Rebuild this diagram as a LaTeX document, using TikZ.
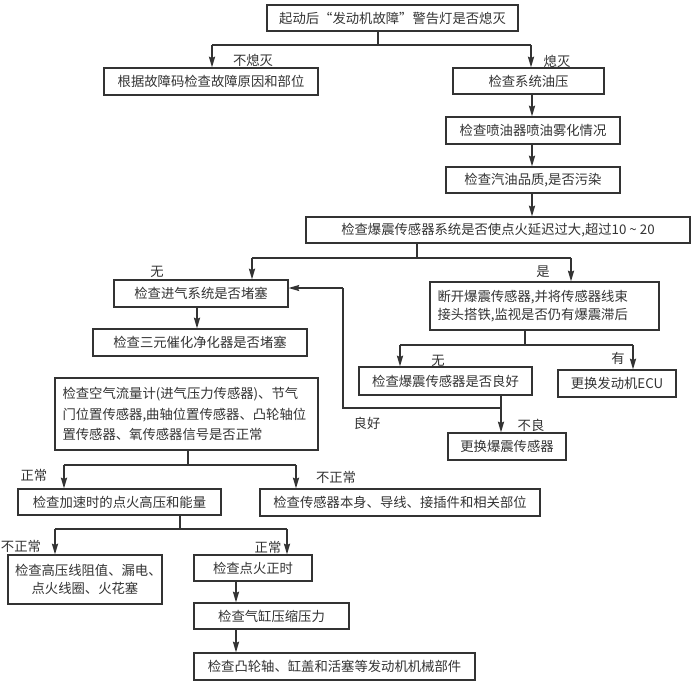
\documentclass[tikz,border=0pt]{standalone}
\usepackage{fontspec}
\setmainfont{Noto Sans CJK SC}
\usetikzlibrary{arrows.meta}
\definecolor{ink}{HTML}{333333}
\newcommand\bx[6]{\node[box, minimum width={(#4-#2)*0.75pt}, minimum height={(#5-#3)*0.75pt}] (#1) at ({(#2+#4)/2},{(#3+#5)/2}) {#6};}
\begin{document}
\begin{tikzpicture}[x=0.75pt,y=-0.75pt,
  box/.style={draw=ink, line width=0.8pt, inner sep=2pt, text=ink, font=\fontsize{10}{14}\selectfont},
  arr/.style={draw=ink, line width=1.5pt, -{Stealth[length=8pt,width=4.5pt,inset=1pt]}},
  ln/.style={draw=ink, line width=0.8pt},
  lbl/.style={text=ink, font=\fontsize{10}{12}\selectfont, inner sep=0pt}]
\useasboundingbox[fill=white] (0,0) rectangle (692,690);

% boxes
\bx{top}{267}{5}{518}{31}{起动后“发动机故障”警告灯是否熄灭}
\bx{n1}{104}{68}{318}{95}{根据故障码检查故障原因和部位}
\bx{n2}{453}{68}{604}{94}{检查系统油压}
\bx{n3}{446}{117}{620}{144}{检查喷油器喷油雾化情况}
\bx{n4}{446}{167}{620}{193}{检查汽油品质,是否污染}
\bx{n5}{306}{217}{690}{243}{检查爆震传感器系统是否使点火延迟过大,超过10 \textasciitilde\ 20}
\bx{n6}{114}{280}{288}{307}{检查进气系统是否堵塞}
\bx{n7}{93}{329}{307}{356}{检查三元催化净化器是否堵塞}
\bx{n8}{430}{282}{659}{330}{\parbox{214\dimexpr 0.75pt\relax}{\fontsize{10}{13.5}\selectfont 断开爆震传感器,并将传感器线束\\接头搭铁,监视是否仍有爆震滞后}}
\bx{n9}{359}{367}{532}{395}{检查爆震传感器是否良好}
\bx{n10}{558}{370}{676}{397}{更换发动机ECU}
\bx{n11}{55}{378}{318}{450}{\parbox{248\dimexpr 0.75pt\relax}{\fontsize{10}{15.5}\selectfont 检查空气流量计(进气压力传感器)、节气\\门位置传感器,曲轴位置传感器、凸轮轴位\\置传感器、氧传感器信号是否正常}}
\bx{n12}{448}{433}{566}{460}{更换爆震传感器}
\bx{n13}{18}{489}{221}{515}{检查加速时的点火高压和能量}
\bx{n14}{260}{489}{540}{516}{检查传感器本身、导线、接插件和相关部位}
\bx{n15}{8}{555}{162}{604}{\parbox{140\dimexpr 0.75pt\relax}{\centering\fontsize{10}{14}\selectfont 检查高压线阻值、漏电、\\点火线圈、火花塞}}
\bx{n16}{194}{555}{312}{581}{检查点火正时}
\bx{n17}{194}{603}{349}{629}{检查气缸压缩压力}
\bx{n18}{194}{653}{475}{680}{检查凸轮轴、缸盖和活塞等发动机机械部件}

% junction coordinates
\coordinate (j1) at (378,45);
\coordinate (j1l) at (212,45);
\coordinate (j1r) at (531,45);
\coordinate (c1) at (532,0);
\coordinate (j2) at (417,258);
\coordinate (j2l) at (252,258);
\coordinate (j2r) at (571,258);
\coordinate (c2) at (197,0);
\coordinate (j3) at (525,345);
\coordinate (j3l) at (400,345);
\coordinate (j3r) at (633,345);
\coordinate (c3) at (501,0);
\coordinate (fb1) at (501,408);
\coordinate (fb2) at (343,408);
\coordinate (fb3) at (343,288);
\coordinate (j4) at (188,465);
\coordinate (j4l) at (64,465);
\coordinate (j4r) at (296,465);
\coordinate (j5) at (180,529);
\coordinate (j5l) at (55,529);
\coordinate (j5r) at (287,529);
\coordinate (c4) at (236,0);

% top split
\draw[ln] (j1 |- top.south) -- (j1);
\draw[ln] (j1l) -- (j1r);
\draw[arr] (j1l) -- (j1l |- n1.north);
\draw[arr] (j1r) -- (j1r |- n2.north);
\node[lbl] (l1) at (253,60) {不熄灭};
\node[lbl] (l2) at (557,61) {熄灭};

% right column
\draw[arr] (c1 |- n2.south) -- (c1 |- n3.north);
\draw[arr] (c1 |- n3.south) -- (c1 |- n4.north);
\draw[arr] (c1 |- n4.south) -- (c1 |- n5.north);

% knock split
\draw[ln] (j2 |- n5.south) -- (j2);
\draw[ln] (j2l) -- (j2r);
\draw[arr] (j2l) -- (j2l |- n6.north);
\draw[arr] (j2r) -- (j2r |- n8.north);
\node[lbl] (l3) at (157,272) {无};
\node[lbl] (l4) at (543,272) {是};

\draw[arr] (c2 |- n6.south) -- (c2 |- n7.north);

% disconnect split
\draw[ln] (j3 |- n8.south) -- (j3);
\draw[ln] (j3l) -- (j3r);
\draw[arr] (j3l) -- (j3l |- n9.north);
\draw[arr] (j3r) -- (j3r |- n10.north);
\node[lbl] (l5) at (438,361) {无};
\node[lbl] (l6) at (618,358) {有};

\draw[arr] (c3 |- n9.south) -- (c3 |- n12.north);
\node[lbl] (l7) at (531,425) {不良};

% feedback
\draw[ln] (fb1) -- (fb2) -- (fb3);
\draw[ln, line width=1.2pt, -{Stealth[length=8pt,width=4.5pt,inset=1pt]}] (fb3) -- (fb3 -| n6.east);
\node[lbl] (l8) at (367,423) {良好};

% sensors split
\draw[ln] (j4 |- n11.south) -- (j4);
\draw[ln] (j4l) -- (j4r);
\draw[arr] (j4l) -- (j4l |- n13.north);
\draw[arr] (j4r) -- (j4r |- n14.north);
\node[lbl] (l9) at (34,475) {正常};
\node[lbl] (l10) at (336,477) {不正常};

% ignition split
\draw[ln] (j5 |- n13.south) -- (j5);
\draw[ln] (j5l) -- (j5r);
\draw[arr] (j5l) -- (j5l |- n15.north);
\draw[arr] (j5r) -- (j5r |- n16.north);
\node[lbl] (l11) at (21,546) {不正常};
\node[lbl] (l12) at (268,547) {正常};

\draw[arr] (c4 |- n16.south) -- (c4 |- n17.north);
\draw[arr] (c4 |- n17.south) -- (c4 |- n18.north);
\end{tikzpicture}
\end{document}
